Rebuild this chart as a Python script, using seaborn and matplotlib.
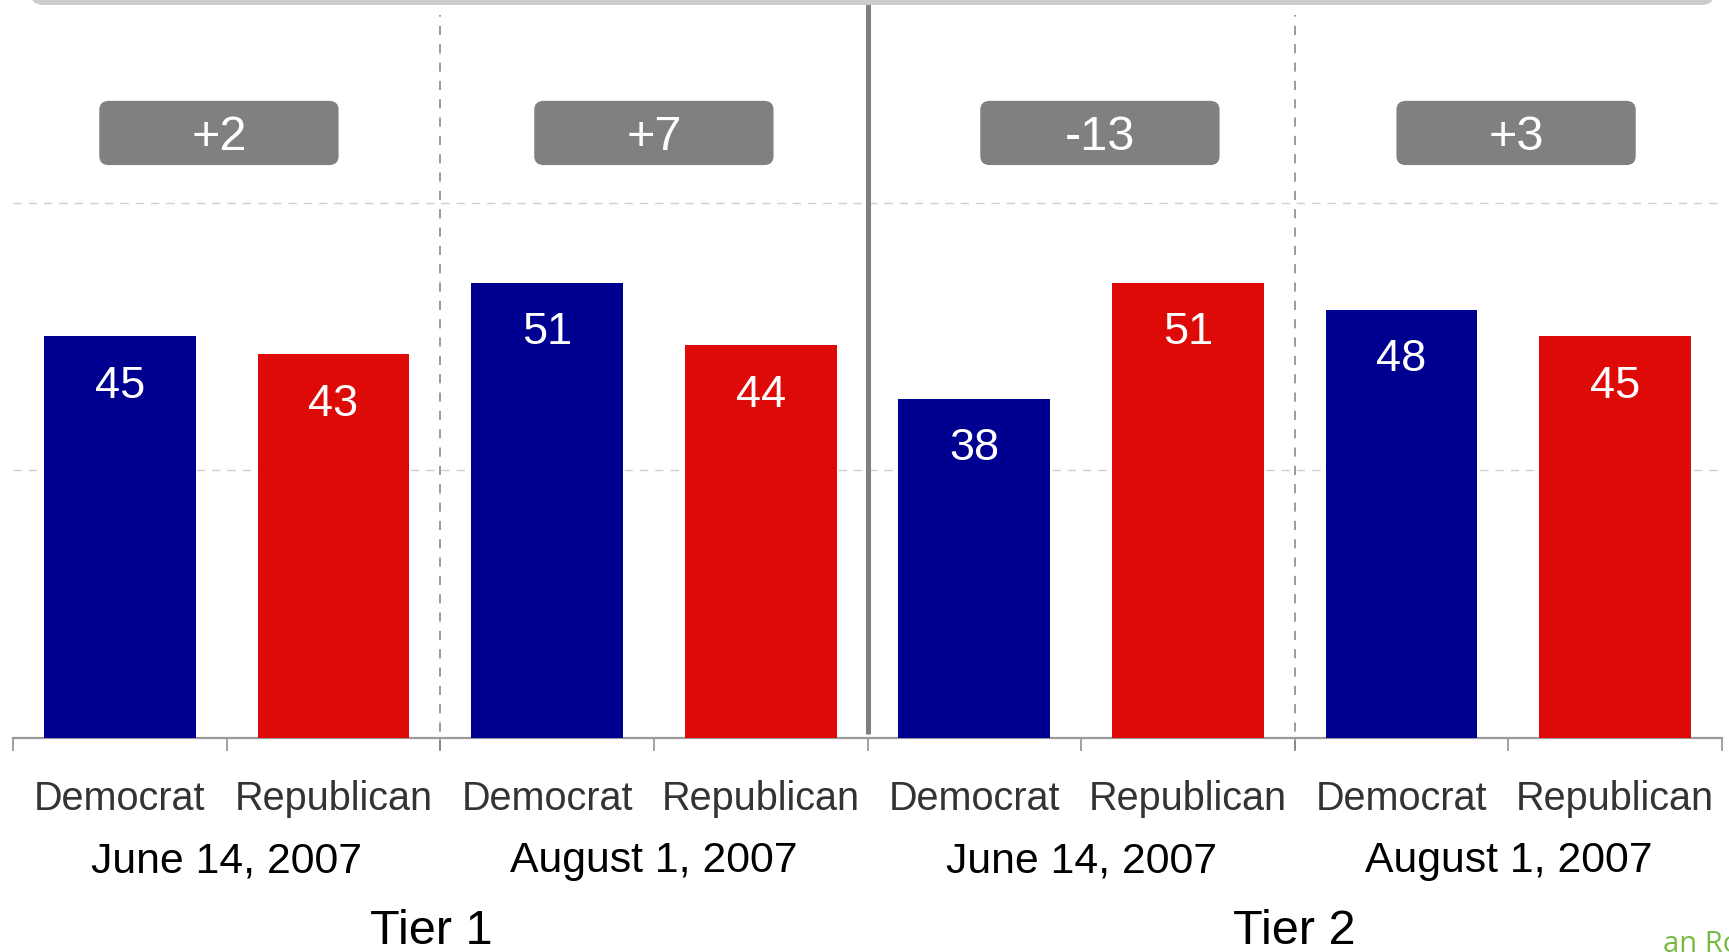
import matplotlib
matplotlib.use("Agg")
import matplotlib.pyplot as plt
import seaborn as sns
import pandas as pd
from matplotlib.patches import FancyBboxPatch

# ---- data ----
tiers = ["Tier 1", "Tier 2"]
dates = ["June 14, 2007", "August 1, 2007", "June 14, 2007", "August 1, 2007"]
parties = ["Democrat", "Republican"]
dem_values = [45, 51, 38, 48]
rep_values = [43, 44, 51, 45]
source_fragment = "an Ro"

sns.set_theme(style="white")
plt.rcParams["font.family"] = ["Liberation Sans", "DejaVu Sans"]

rows = []
for i, (d, r) in enumerate(zip(dem_values, rep_values)):
    rows.append({"slot": f"{2*i}", "party": "Democrat", "value": d})
    rows.append({"slot": f"{2*i+1}", "party": "Republican", "value": r})
df = pd.DataFrame(rows)
order = [str(i) for i in range(8)]

W, H = 1729, 952
fig = plt.figure(figsize=(W / 100, H / 100), dpi=100)
fig.patch.set_facecolor("white")
ax_left, ax_right, ax_base = 13, 1722, 738
ax = fig.add_axes([ax_left / W, 1 - ax_base / H, (ax_right - ax_left) / W, ax_base / H])

sns.barplot(data=df, x="slot", y="value", hue="party", order=order,
            palette={"Democrat": "#000090", "Republican": "#DD0A08"},
            dodge=False, width=0.71, ax=ax, legend=False, saturation=1,
            edgecolor="none", zorder=3)

ymax = 82.7
ax.set_ylim(0, ymax)
ax.set_xlim(-0.5, 7.5)
ax.set_xlabel("")
ax.set_ylabel("")
ax.set_yticks([])
for s in ["top", "left", "right"]:
    ax.spines[s].set_visible(False)
ax.spines["bottom"].set_color("#9a9a9a")
ax.spines["bottom"].set_linewidth(1.6)
ax.set_xticks([i - 0.5 for i in range(9)])
ax.set_xticklabels([])
ax.tick_params(axis="x", bottom=True, length=9, width=1.3, color="#9a9a9a", direction="out")

# gridlines
for gy in [30, 60]:
    ax.axhline(gy, color="#cfcfcf", lw=1.0, dashes=(6, 5), zorder=1)

# separators
for xv in [1.5, 5.5]:
    ax.plot([xv, xv], [-1.3, ymax - 1.7], color="#808080", lw=1.1, dashes=(6, 6),
            clip_on=False, zorder=2)
ax.plot([3.5, 3.5], [0.5, ymax], color="#808080", lw=3.6, clip_on=False, zorder=2,
        solid_capstyle="butt")

# bar value labels
allvals = []
for d, r in zip(dem_values, rep_values):
    allvals += [d, r]
for i, v in enumerate(allvals):
    ax.text(i, v - 5.6, f"{v}", ha="center", va="center", color="white", fontsize=32.5, zorder=4)

# difference boxes
box_shift = [-0.036, 0.0, 0.088, 0.036]
for g, (d, r) in enumerate(zip(dem_values, rep_values)):
    diff = d - r
    cx = 2 * g + 0.5 + box_shift[g]
    bw, by0, bh = 1.12, 64.2, 7.2
    box = FancyBboxPatch((cx - bw / 2, by0), bw, bh,
                         boxstyle="round,pad=0,rounding_size=0.045",
                         mutation_aspect=22, facecolor="#808080", edgecolor="none",
                         zorder=4)
    ax.add_patch(box)
    ax.text(cx, by0 + bh / 2 - 0.5, f"{diff:+d}", ha="center", va="center", color="white",
            fontsize=35, zorder=5)

# category / date / tier labels
tr = ax.get_xaxis_transform()
for i in range(8):
    ax.text(i, (ax_base - 799) / ax_base, parties[i % 2], transform=tr, ha="center",
            va="center", fontsize=28.5, color="#333333")
for g, dlab in enumerate(dates):
    ax.text(2 * g + 0.5, (ax_base - 861) / ax_base, dlab, transform=tr, ha="center",
            va="center", fontsize=30.8, color="black")
tier_shift = [-0.04, 0.0]
for t, tlab in enumerate(tiers):
    ax.text(4 * t + 1.5 + tier_shift[t], (ax_base - 932) / ax_base, tlab, transform=tr,
            ha="center", va="center", fontsize=35, color="black")

# top cut-off header box
hdr = FancyBboxPatch((30 / W, 1 - 5 / H), (1715 - 30) / W, 60 / H,
                     boxstyle="round,pad=0,rounding_size=0.008", mutation_aspect=1.8,
                     transform=fig.transFigure, facecolor="#cccccc", edgecolor="none",
                     zorder=0)
fig.patches.append(hdr)

# bottom right cut-off source text (as in the reference)
fig.text(1663 / W, 1 - 930 / H, source_fragment, fontsize=21, family=["Open Sans", "DejaVu Sans"],
         color="#77bb44", ha="left", va="top")

fig.savefig("out.png", dpi=100, facecolor="white")
